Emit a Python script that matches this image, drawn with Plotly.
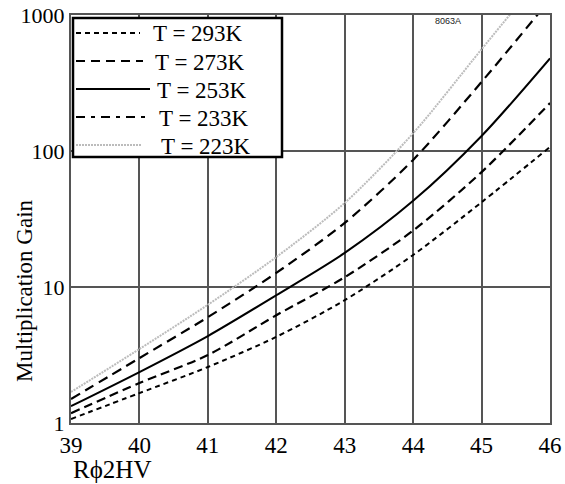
import plotly.graph_objects as go

# ---- data ----
voltage = [39, 40, 41, 42, 43, 44, 45, 46]
gain_293K = [1.07, 1.66, 2.58, 4.3, 8.0, 17.2, 42, 107]
gain_273K = [1.18, 1.97, 3.16, 6.2, 11.8, 26, 70, 225]
gain_253K = [1.33, 2.37, 4.36, 8.7, 17.8, 43, 129, 480]
gain_233K = [1.5, 3.0, 6.0, 12.7, 29.6, 86, 322, 1300]
gain_223K = [1.69, 3.5, 7.4, 16.6, 41.5, 135, 560, 2300]
series_labels = ["T = 293K", "T = 273K", "T = 253K", "T = 233K", "T = 223K"]
x_ticks = [39, 40, 41, 42, 43, 44, 45, 46]
y_ticks = [1, 10, 100, 1000]

series = [gain_293K, gain_273K, gain_253K, gain_233K, gain_223K]
styles = [
    dict(color="black", width=2, dash="5px,4px"),
    dict(color="black", width=2.2, dash="9px,5px"),
    dict(color="black", width=2, dash="solid"),
    dict(color="black", width=2.2, dash="10px,6px"),
    dict(color="#bcbcbc", width=2, dash="2px,1px"),
]
legend_dash = ["5px,4px", "9px,6px", "solid", "9px,6px,4px,6px", "2px,1px"]

W, H = 565, 484
L, R, T, B = 71, 550, 15, 423  # plot area in pixels

fig = go.Figure()
for ys, st, name in zip(series, styles, series_labels):
    fig.add_trace(go.Scatter(x=voltage, y=ys, mode="lines", name=name,
                             line=dict(shape="spline", smoothing=0.8, **st),
                             showlegend=False))

def px(xp):
    return (xp - L) / (R - L)

def py(yp):
    return (B - yp) / (B - T)

serif = "Liberation Serif, Times New Roman, serif"

shapes = [dict(type="rect", xref="paper", yref="paper", layer="above",
               x0=px(73), x1=px(282), y0=py(157), y1=py(18),
               fillcolor="white", line=dict(color="black", width=2.5))]
annotations = []
row_y = [33, 61, 89, 117, 145]
sample_end = [140, 143, 150, 145, 141]
text_x = [151, 153, 155, 157, 159]
for i, name in enumerate(series_labels):
    st = styles[i]
    shapes.append(dict(type="line", xref="paper", yref="paper", layer="above",
                       x0=px(76), x1=px(sample_end[i]), y0=py(row_y[i]), y1=py(row_y[i]),
                       line=dict(color=st["color"], width=st["width"], dash=legend_dash[i])))
    annotations.append(dict(xref="paper", yref="paper", x=px(text_x[i]), y=py(row_y[i] + 1),
                            text=name, showarrow=False, xanchor="left", yanchor="middle",
                            font=dict(family=serif, size=23, color="black")))

annotations.append(dict(xref="paper", yref="paper", x=px(448), y=py(21), text="8063A",
                        showarrow=False, xanchor="center", yanchor="middle",
                        font=dict(family="Liberation Sans, Arial, sans-serif", size=9, color="#222")))
annotations.append(dict(xref="paper", yref="paper", x=px(112), y=py(469), text="Rϕ2HV",
                        showarrow=False, xanchor="center", yanchor="middle",
                        font=dict(family=serif, size=25, color="black")))
annotations.append(dict(xref="paper", yref="paper", x=px(24), y=py(291), text="Multiplication Gain",
                        showarrow=False, xanchor="center", yanchor="middle", textangle=-90,
                        font=dict(family=serif, size=23, color="black")))

axis_common = dict(showgrid=True, gridcolor="#555555", gridwidth=1.5,
                   showline=True, linecolor="#555555", linewidth=2, mirror=True,
                   ticks="", zeroline=False, automargin=False, ticklabeloverflow="allow")

fig.update_layout(
    width=W, height=H, autosize=False,
    margin=dict(l=L, r=W - R, t=T, b=H - B, pad=0, autoexpand=False),
    paper_bgcolor="white", plot_bgcolor="white",
    xaxis=dict(range=[39, 46], tickvals=x_ticks, ticktext=[str(v) for v in x_ticks],
               tickfont=dict(family=serif, size=23, color="black"), **axis_common),
    yaxis=dict(type="log", range=[0, 3], tickvals=y_ticks, ticktext=[str(v) for v in y_ticks],
               tickfont=dict(family=serif, size=22, color="black"),
               **axis_common),
    shapes=shapes,
    annotations=annotations,
)

fig.write_html("out.html", config={"displayModeBar": False},
               post_script="document.body.style.margin='0';document.body.style.overflow='hidden';")
